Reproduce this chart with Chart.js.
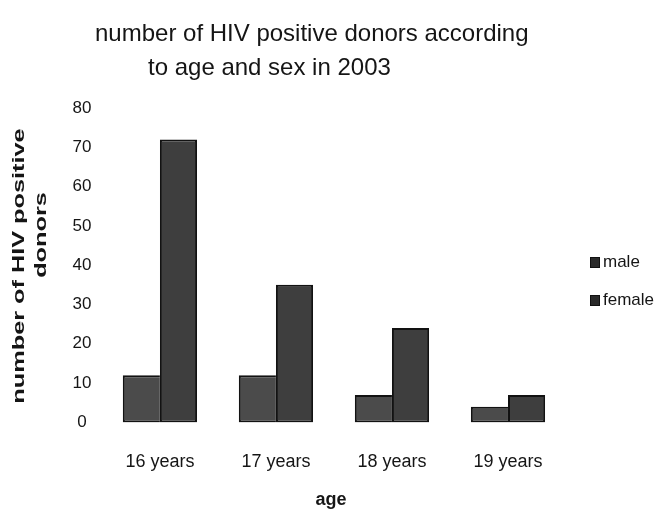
<!DOCTYPE html>
<html><head><meta charset="utf-8">
<script src="https://cdn.jsdelivr.net/npm/chart.js"></script>
<style>html,body{margin:0;padding:0;background:#fff}#wrap{width:659px;height:516px}</style>
</head><body><div id="wrap"><canvas id="c" width="659" height="516"></canvas></div>
<script>
const categories = ['16 years', '17 years', '18 years', '19 years'];
const seriesNames = ['male', 'female'];
const maleValues = [12, 12, 7, 4];
const femaleValues = [72, 35, 24, 7];
const yTicks = [0, 10, 20, 30, 40, 50, 60, 70, 80];
const titleLines = ['number of HIV positive donors according', 'to age and sex in 2003'];
const yTitleLines = ['number of HIV positive', 'donors'];
const xTitle = 'age';

const SANS = '"Liberation Sans", Arial, sans-serif';
const INK = '#151515';

const textLayer = {
  id: 'textLayer',
  afterDraw(chart) {
    const ctx = chart.ctx;
    const ca = chart.chartArea;
    ctx.save();
    ctx.fillStyle = INK;
    ctx.textBaseline = 'middle';
    // chart title (two lines, second indented)
    ctx.font = '24px ' + SANS;
    ctx.textAlign = 'left';
    ctx.fillText(titleLines[0], 95, 34);
    ctx.fillText(titleLines[1], 148, 68);
    // x axis title
    ctx.font = 'bold 18px ' + SANS;
    ctx.textAlign = 'center';
    ctx.fillText(xTitle, (ca.left + ca.right) / 2 - 3, 500);
    // y axis title, rotated and stretched along its length
    ctx.font = 'bold 16px ' + SANS;
    const yPos = [[20, 266], [42, 235]];
    yTitleLines.forEach((t, i) => {
      ctx.save();
      ctx.translate(yPos[i][0], yPos[i][1]);
      ctx.rotate(-Math.PI / 2);
      ctx.scale(1.58, 1);
      ctx.fillText(t, 0, 0);
      ctx.restore();
    });
    // legend
    ctx.font = '17px ' + SANS;
    ctx.textAlign = 'left';
    const legY = [262, 300];
    chart.data.datasets.forEach((ds, i) => {
      ctx.fillStyle = '#2a2a2a';
      ctx.fillRect(590, legY[i] - 5, 10, 11);
      ctx.strokeStyle = '#111';
      ctx.lineWidth = 1;
      ctx.strokeRect(590.5, legY[i] - 4.5, 9, 10);
      ctx.fillStyle = INK;
      ctx.fillText(ds.label, 603, legY[i]);
    });
    ctx.restore();
  }
};

new Chart(document.getElementById('c'), {
  type: 'bar',
  data: {
    labels: categories,
    datasets: [
      {
        label: seriesNames[0],
        data: maleValues,
        backgroundColor: '#4b4b4b',
        borderColor: '#121212',
        borderWidth: {left: 2, top: 2, bottom: 2, right: 0},
        borderSkipped: false,
        categoryPercentage: 0.64,
        barPercentage: 1.0
      },
      {
        label: seriesNames[1],
        data: femaleValues,
        backgroundColor: '#3e3e3e',
        borderColor: '#121212',
        borderWidth: 2,
        borderSkipped: false,
        categoryPercentage: 0.64,
        barPercentage: 1.0
      }
    ]
  },
  options: {
    responsive: false,
    devicePixelRatio: 1,
    animation: false,
    layout: {padding: {top: 108, right: 93, bottom: 14, left: 62}},
    plugins: {
      legend: {display: false},
      title: {display: false},
      tooltip: {enabled: false}
    },
    scales: {
      x: {
        grid: {display: false, drawTicks: false},
        border: {display: false},
        ticks: {font: {family: SANS, size: 18}, color: INK, padding: 29, maxRotation: 0}
      },
      y: {
        min: 0,
        max: 80,
        grid: {display: false, drawTicks: false},
        border: {display: false},
        afterBuildTicks: s => { s.ticks = yTicks.map(v => ({value: v})); },
        ticks: {font: {family: SANS, size: 17}, color: INK, padding: 10.5, crossAlign: 'center'}
      }
    }
  },
  plugins: [textLayer]
});
</script>
</body></html>
